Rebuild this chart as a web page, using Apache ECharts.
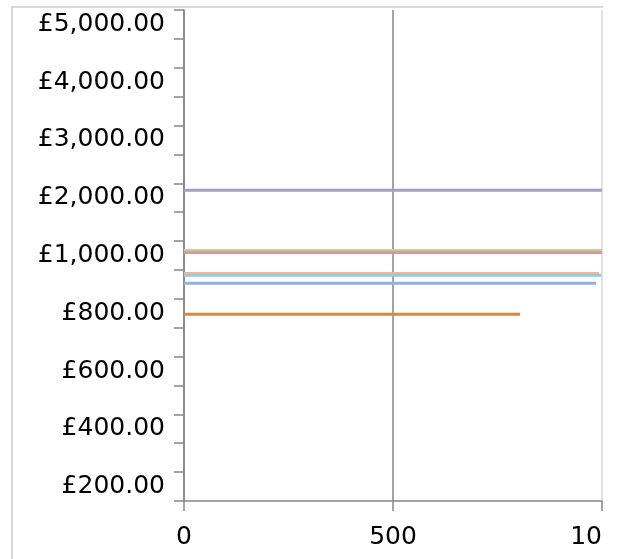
<!DOCTYPE html>
<html>
<head>
<meta charset="utf-8">
<title>Price levels</title>
<script src="https://cdn.jsdelivr.net/npm/echarts@6/dist/echarts.min.js"></script>
<style>
  html, body { margin: 0; padding: 0; background: #fff; }
  #frame { position: absolute; left: 0; top: 0; width: 603px; height: 559px; overflow: hidden; background: #fff; }
  #chart { width: 617px; height: 559px; }
</style>
</head>
<body>
<div id="frame"><div id="chart"></div></div>
<script>
// Price ladder shown on the vertical axis (bottom to top); every other rung is labelled.
const priceLabels = ['£200.00', '£400.00', '£600.00', '£800.00', '£1,000.00',
                     '£2,000.00', '£3,000.00', '£4,000.00', '£5,000.00'];

// Horizontal axis ticks
const xMin = 0;
const xMax = 1000;
const xStep = 500;

// Series: level on the price ladder (in rungs from the bottom) and run length along x
const seriesNames  = ['Purple', 'Green', 'Red', 'Salmon', 'Cyan', 'Blue', 'Orange'];
const seriesLevels = [10.76, 8.67, 8.60, 7.88, 7.82, 7.54, 6.47];
const seriesEnds   = [1000, 1000, 1000, 993, 998, 986, 804];
const seriesColors = ['#a99bc6', '#bfd29c', '#d69a9a', '#fbb490', '#8ccde0', '#95b2d6', '#db8741'];

// 17 rungs: labelled rungs alternate with unlabelled ones
const rungs = [];
priceLabels.forEach((lab, i) => {
  rungs.push(lab);
  if (i < priceLabels.length - 1) rungs.push('');
});

const axisGrey = '#868686';
const font = 'DejaVu Sans';

const chart = echarts.init(document.getElementById('chart'), null, { renderer: 'canvas' });

chart.setOption({
  animation: false,
  backgroundColor: '#fff',
  graphic: [{
    type: 'rect',
    shape: { x: 12, y: 7, width: 800, height: 800 },
    style: { fill: 'none', stroke: '#d9d9d9', lineWidth: 2 },
    silent: true,
    z: -1
  }],
  grid: {
    left: 184, top: 10, right: 15, bottom: 58,
    containLabel: false,
    outerBoundsMode: 'none'
  },
  xAxis: {
    type: 'value',
    min: xMin, max: xMax, interval: xStep,
    axisLine: { show: true, lineStyle: { color: axisGrey, width: 1.5 } },
    axisTick: { show: true, length: 10, lineStyle: { color: axisGrey, width: 1.5 } },
    axisLabel: {
      color: '#000', fontSize: 25, fontFamily: font, margin: 24,
      formatter: v => String(v)
    },
    splitLine: { show: true, lineStyle: { color: [axisGrey, axisGrey, '#d9d9d9'], width: 1.5 } }
  },
  yAxis: [{
    type: 'category',
    data: rungs,
    boundaryGap: true,
    axisLine: { show: true, lineStyle: { color: axisGrey, width: 1.5 } },
    axisTick: { show: true, interval: 0, length: 10, lineStyle: { color: axisGrey, width: 1.5 } },
    axisLabel: { interval: 1, color: '#000', fontSize: 25, fontFamily: font, margin: 19 },
    splitLine: { show: false }
  }, {
    type: 'value',
    min: 0, max: rungs.length,
    show: false,
    splitLine: { show: false }
  }],
  series: seriesNames.map((name, i) => ({
    name: name,
    type: 'line',
    yAxisIndex: 1,
    symbol: 'none',
    silent: true,
    lineStyle: { color: seriesColors[i], width: 3 },
    data: [[xMin, seriesLevels[i]], [seriesEnds[i], seriesLevels[i]]]
  }))
});
</script>
</body>
</html>
